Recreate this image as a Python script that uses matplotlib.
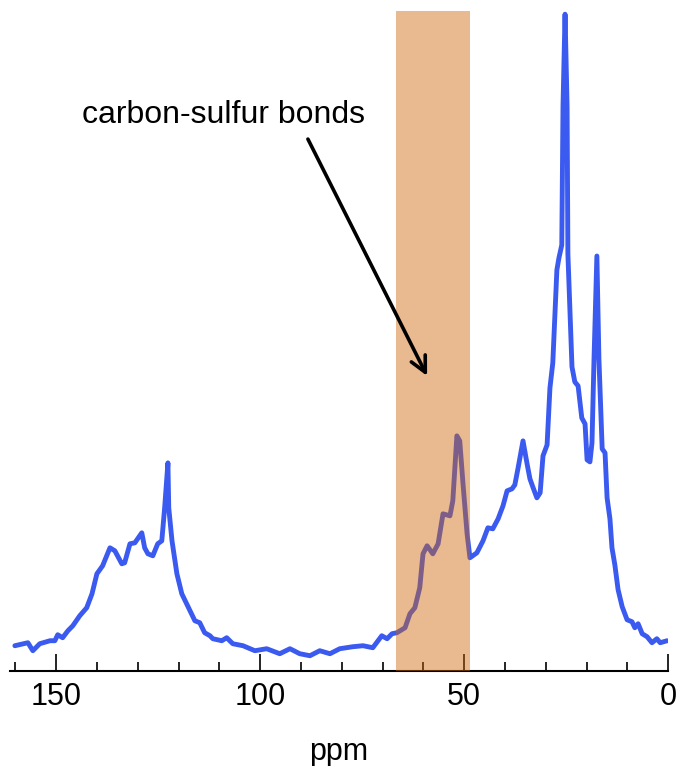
import matplotlib.pyplot as plt

# Espectro 13C (ppm, intensidad relativa)
ppm = [160.1, 156.9, 155.7, 154.0, 151.5, 150.3, 149.6, 148.4, 147.1, 145.9,
       144.2, 142.5, 141.2, 140.0, 138.6, 136.8, 135.6, 133.9, 133.2, 131.9,
       130.7, 129.0, 128.3, 127.5, 126.3, 125.1, 124.1, 123.4, 122.6, 122.4,
       121.6, 120.4, 119.2, 117.2, 116.0, 114.8, 113.6, 112.3, 111.6, 109.4,
       108.2, 106.7, 104.2, 101.3, 98.4, 95.2, 92.7, 90.3, 87.8, 85.4,
       82.9, 80.5, 77.3, 74.8, 72.4, 70.2, 68.9, 67.7, 66.5, 64.5,
       63.3, 62.1, 60.9, 60.1, 59.1, 57.7, 56.4, 55.2, 53.5, 52.8,
       51.8, 51.1, 50.3, 49.3, 48.6, 46.9, 45.4, 44.2, 43.0, 41.7,
       40.5, 39.5, 38.3, 37.6, 36.8, 35.6, 34.6, 33.9, 33.2, 32.2,
       31.4, 30.7, 29.7, 29.0, 28.3, 27.3, 26.8, 26.1, 25.8, 25.3,
       24.8, 24.6, 23.6, 22.9, 22.1, 21.2, 20.4, 19.9, 19.2, 18.7,
       18.2, 17.5, 17.0, 16.2, 15.5, 15.0, 14.3, 13.8, 13.1, 12.3,
       11.3, 10.1, 8.9, 8.2, 7.4, 6.4, 5.2, 4.0, 2.8, 2.0, 0.3]
intensidad = [25, 28, 20, 27, 30, 30, 36, 33, 40, 45,
              55, 63, 77, 97, 105, 123, 120, 107, 108, 127,
              128, 138, 123, 117, 115, 127, 130, 163, 208, 163,
              130, 97, 77, 60, 50, 48, 38, 35, 32, 30,
              33, 27, 25, 20, 22, 17, 22, 17, 15, 20,
              17, 22, 24, 25, 23, 35, 32, 37, 38, 43,
              57, 63, 83, 117, 125, 117, 127, 157, 155, 170,
              235, 230, 187, 137, 113, 118, 130, 143, 142, 152,
              165, 180, 182, 186, 203, 230, 207, 192, 184, 173,
              178, 215, 226, 283, 308, 401, 413, 426, 565, 657,
              565, 417, 304, 289, 285, 253, 247, 211, 209, 228,
              312, 415, 312, 222, 218, 173, 152, 123, 106, 81,
              64, 51, 49, 43, 47, 37, 34, 28, 32, 28, 30]

# Zona de enlaces carbono-azufre
banda = (48.6, 66.7)
etiquetas = [150, 100, 50, 0]

plt.rcParams['font.family'] = ['Liberation Sans', 'DejaVu Sans']

fig = plt.figure(figsize=(6.78, 7.66), dpi=100)
ax = fig.add_axes([0.0147, 0.1244, 0.971, 0.861])

ax.plot(ppm, intensidad, color='#3A5AF0', lw=3.5, zorder=2,
        solid_joinstyle='round', solid_capstyle='round')
ax.axvspan(banda[0], banda[1], color='#D0650A', alpha=0.45, lw=0, zorder=3)

ax.text(108.9, 556, 'carbon-sulfur bonds', fontsize=23, ha='center', va='center')
ax.annotate('', xy=(59.1, 295), xytext=(88.3, 532),
            arrowprops=dict(arrowstyle='->', lw=2.6, color='black',
                            mutation_scale=28, shrinkA=0, shrinkB=0),
            zorder=5)

ax.set_xlim(161.3, 0)
ax.set_ylim(0, 660)
ax.set_xticks(etiquetas)
ax.set_xticks(range(0, 161, 10), minor=True)
ax.tick_params(axis='x', which='major', direction='in', length=12.2, width=1.2,
               labelsize=22, pad=8)
ax.tick_params(axis='x', which='minor', direction='in', length=6.5, width=1.2)
ax.set_yticks([])
for lado in ['left', 'right', 'top']:
    ax.spines[lado].set_visible(False)
ax.spines['bottom'].set_linewidth(1.5)
ax.set_xlabel('ppm', fontsize=22, labelpad=18)

plt.savefig('out.png', dpi=100)
